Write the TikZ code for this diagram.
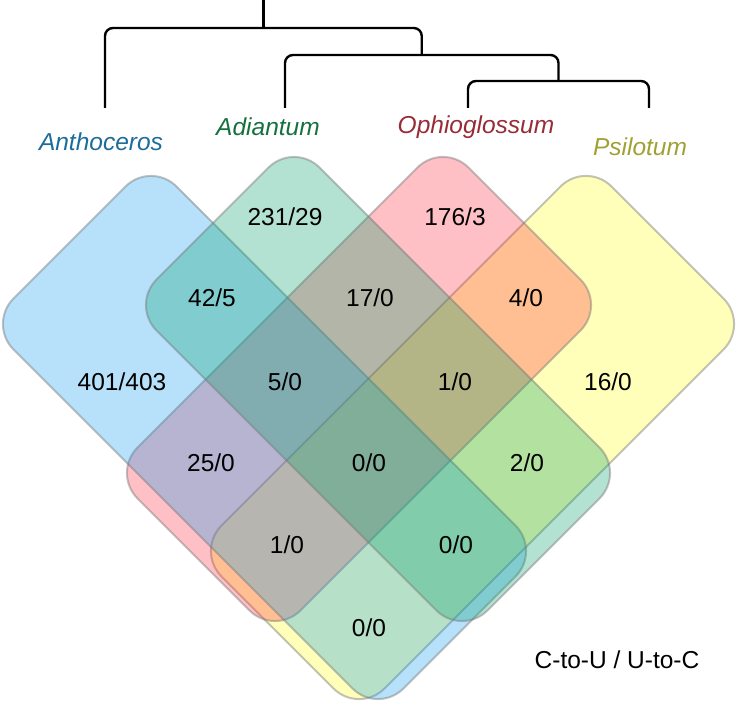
\documentclass[tikz,border=0pt]{standalone}
\usepackage{fontspec}
\setmainfont{Liberation Sans}
\usetikzlibrary{positioning}

\definecolor{anthofill}{RGB}{15,155,238}
\definecolor{adiafill}{RGB}{5,158,105}
\definecolor{ophiofill}{RGB}{255,45,62}
\definecolor{psilofill}{RGB}{255,255,22}
\definecolor{anthotext}{RGB}{28,108,155}
\definecolor{adiatext}{RGB}{22,112,62}
\definecolor{ophiotext}{RGB}{152,44,54}
\definecolor{psilotext}{RGB}{160,160,52}
\definecolor{edgegray}{RGB}{120,120,120}

\tikzset{
  setbox/.style={rectangle, rounded corners=36pt, minimum width=#1,
    minimum height=230.5pt, inner sep=0pt, fill opacity=0.3,
    draw=edgegray, draw opacity=0.45, line width=2pt},
  taxon/.style={font=\fontsize{24.5}{29}\selectfont\itshape, inner sep=0pt},
  count/.style={font=\fontsize{24.5}{29}\selectfont, inner sep=0pt},
  branch/.style={line width=2.4pt, rounded corners=8pt}
}

\begin{document}
\begin{tikzpicture}[x=1pt,y=1pt]
        \useasboundingbox (0,0) rectangle (740,703);

        % the four sets
        \coordinate (A) at (264.5,265.5);
        \coordinate (B) at (378,314);
        \coordinate (C) at (359,314);
        \coordinate (D) at (472.5,265.5);
        \node[setbox=551.5pt, fill=psilofill, rotate=45] (SD) at (D) {};
        \node[setbox=468pt, fill=ophiofill, rotate=45] (SC) at (C) {};
        \node[setbox=551.5pt, fill=anthofill, rotate=-45] (SA) at (A) {};
        \node[setbox=468pt, fill=adiafill, rotate=-45] (SB) at (B) {};

        % tree
        \coordinate (tA) at (105,595);
        \coordinate (tB) at (285,595);
        \coordinate (tC) at (468,595);
        \coordinate (tD) at (649,595);
        \coordinate (j3) at (558.5,622);
        \coordinate (j2) at (421.75,648);
        \coordinate (j1) at (263.4,675);
        \coordinate (root) at (263.4,703);
        \draw[branch] (j1) -- (root);
        \draw[branch] (tA) |- (j1) -| (j2);
        \draw[branch] (tB) |- (j2) -| (j3);
        \draw[branch] (tC) |- (j3) -| (tD);

        % names
        \node[taxon, text=anthotext] (LA) at (101,561) {Anthoceros};
        \node[taxon, text=adiatext] (LB) at (268,576) {Adiantum};
        \node[taxon, text=ophiotext] (LC) at (476,576) {Ophioglossum};
        \node[taxon, text=psilotext] (LD) at (640,556) {Psilotum};

        % counts
        \node[count] (nA) at (122,321) {401/403};
        \node[count] (nAB) at (212,405) {42/5};
        \node[count] (nB) at (285,486) {231/29};
        \node[count] (nC) at (455,486) {176/3};
        \node[count] (nBC) at (370,405) {17/0};
        \node[count] (nCD) at (526,405) {4/0};
        \node[count] (nABC) at (285,321) {5/0};
        \node[count] (nBCD) at (455,321) {1/0};
        \node[count] (nD) at (608,321) {16/0};
        \node[count] (nAC) at (211,240) {25/0};
        \node[count] (nABCD) at (369,240) {0/0};
        \node[count] (nBD) at (527,240) {2/0};
        \node[count] (nACD) at (287,158) {1/0};
        \node[count] (nABD) at (456,158) {0/0};
        \node[count] (nAD) at (369,75) {0/0};
        \node[count] (key) at (617,43) {C-to-U / U-to-C};
      \end{tikzpicture}
\end{document}
